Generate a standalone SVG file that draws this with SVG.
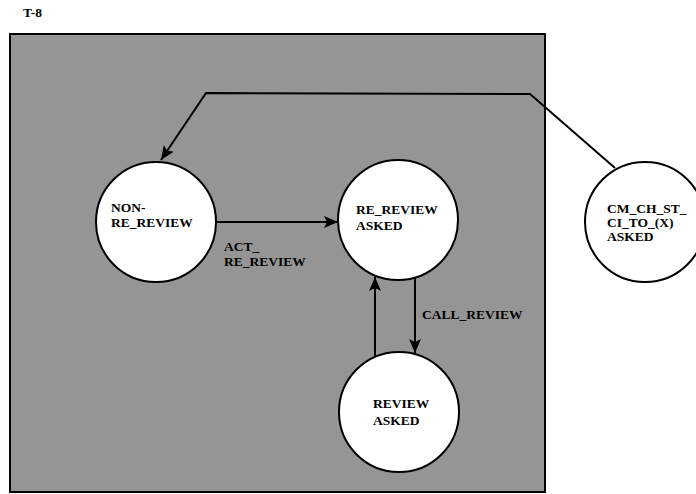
<svg xmlns="http://www.w3.org/2000/svg" width="696" height="494" viewBox="0 0 696 494">
<defs>
<style>
.t{font-family:"Liberation Serif","Times New Roman",serif;font-weight:bold;font-size:13.5px;fill:#000}
.n{fill:#fff;stroke:#000;stroke-width:2}
.c{fill:none;stroke:#000;stroke-width:2}
</style>
<marker id="a" markerWidth="14" markerHeight="12" viewBox="0 0 14 12" refX="14" refY="6" orient="auto" markerUnits="userSpaceOnUse">
<path d="M0,0 L14,6 L0,12 L3,6 Z" fill="#000"/>
</marker>
</defs>
<rect width="696" height="494" fill="#fff"/>
<text class="t" x="23" y="17">T-8</text>
<rect x="10" y="34" width="535" height="458" fill="#959595" stroke="#000" stroke-width="2"/>
<g id="connectors">
<polyline class="c" points="615,168 530,94 206,93 161,160" marker-end="url(#a)"/>
<line class="c" x1="216" y1="222" x2="338" y2="222" marker-end="url(#a)"/>
<line class="c" x1="415" y1="277" x2="415" y2="353" marker-end="url(#a)"/>
<line class="c" x1="375" y1="356" x2="375" y2="277" marker-end="url(#a)"/>
<text class="t" x="224" y="251">ACT_</text>
<text class="t" x="224" y="266">RE_REVIEW</text>
<text class="t" x="422" y="319">CALL_REVIEW</text>
</g>
<g id="non-re-review">
<circle class="n" cx="156" cy="222" r="60"/>
<text class="t" x="111" y="212">NON-</text>
<text class="t" x="111" y="227">RE_REVIEW</text>
</g>
<g id="re-review-asked">
<circle class="n" cx="398" cy="220" r="60"/>
<text class="t" x="356" y="214">RE_REVIEW</text>
<text class="t" x="356" y="230">ASKED</text>
</g>
<g id="review-asked">
<circle class="n" cx="399" cy="412" r="60"/>
<text class="t" x="373" y="408">REVIEW</text>
<text class="t" x="373" y="425">ASKED</text>
</g>
<g id="cm-ch-st-ci-to-x-asked">
<circle class="n" cx="645" cy="222" r="60"/>
<text class="t" x="607" y="213">CM_CH_ST_</text>
<text class="t" x="607" y="227">CI_TO_(X)</text>
<text class="t" x="607" y="241">ASKED</text>
</g>
</svg>
